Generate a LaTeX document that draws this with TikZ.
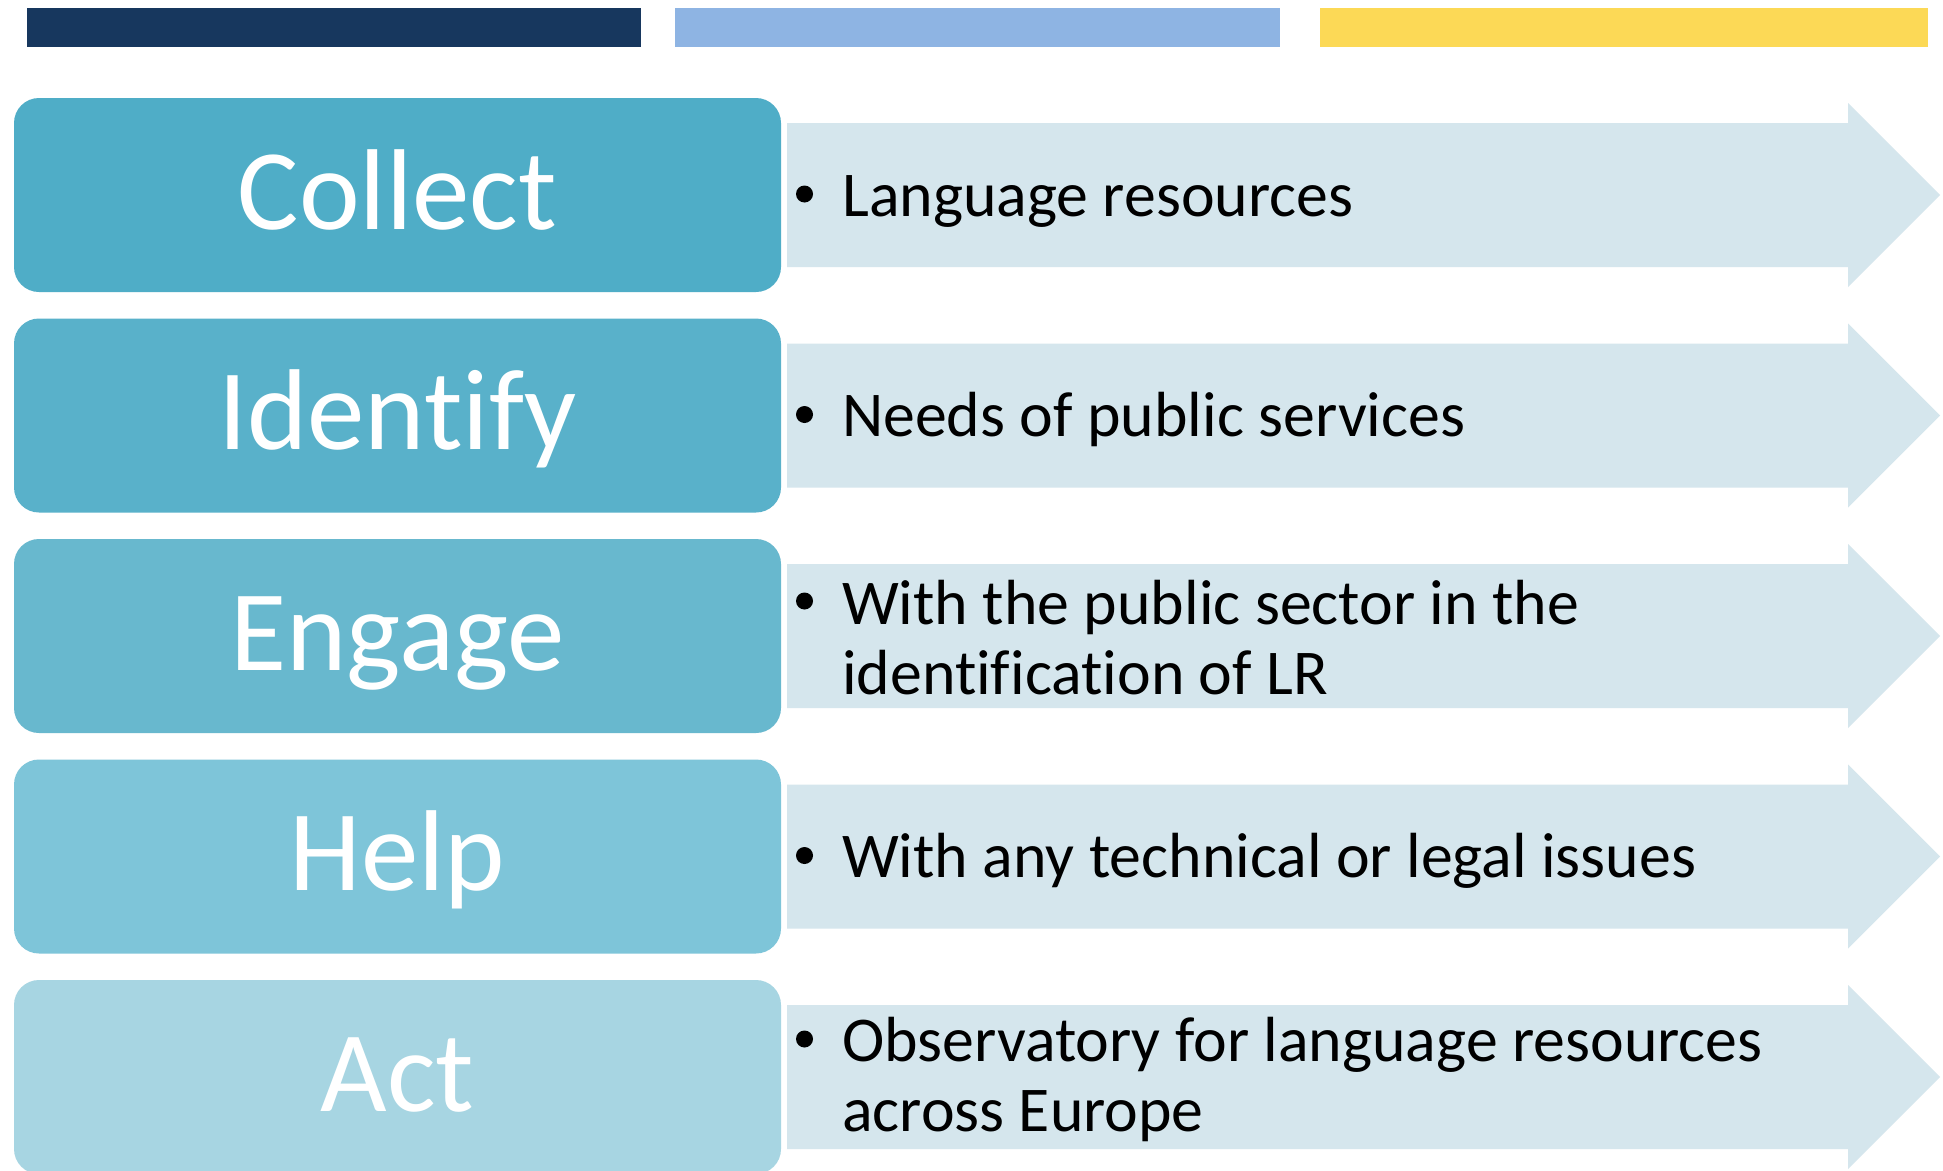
\documentclass[tikz,border=0pt]{standalone}
\usepackage{fontspec}
\setmainfont[Ligatures=NoCommon,RawFeature={-liga}]{Carlito}
\newcommand{\nolig}{\kern0pt}
\definecolor{barA}{HTML}{17375E}
\definecolor{barB}{HTML}{8EB4E3}
\definecolor{barC}{HTML}{FCD956}
\definecolor{boxA}{HTML}{4FADC7}
\definecolor{boxB}{HTML}{59B1CA}
\definecolor{boxC}{HTML}{68B8CE}
\definecolor{boxD}{HTML}{7EC5D9}
\definecolor{boxE}{HTML}{A7D5E2}
\definecolor{arrowfill}{HTML}{D5E6ED}
\tikzset{
  topbar/.style={draw=none, inner sep=0pt, minimum height=39pt, anchor=north west},
  titlebox/.style={draw=none, rounded corners=25pt, minimum width=767pt, minimum height=194pt, inner sep=0pt},
  titletext/.style={text=white, anchor=base, inner sep=0pt, font=\fontsize{115}{115}\selectfont},
  bullettext/.style={text=black, anchor=base west, inner sep=0pt, align=left, font=\fontsize{63.8}{70}\selectfont},
  bulletdot/.style={circle, fill=black, draw=none, minimum size=17pt, inner sep=0pt},
  arrowshape/.style={fill=arrowfill, draw=none}
}
\begin{document}
\begin{tikzpicture}[x=1pt,y=-1pt]
\useasboundingbox[fill=white] (0,0) rectangle (1943,1170);
% top bars
\node[topbar, fill=barA, minimum width=614pt] (barone) at (27,8) {};
\node[topbar, fill=barB, minimum width=605pt] (bartwo) at (675,8) {};
\node[topbar, fill=barC, minimum width=608pt] (barthree) at (1320,8) {};
% arrows
\foreach \c [count=\i] in {195,415.5,636,856.5,1077}{
  \fill[arrowshape] (787,\c-72) -- (1848,\c-72) -- (1848,\c-92) -- (1940,\c)
    -- (1848,\c+92) -- (1848,\c+72) -- (787,\c+72) -- cycle;
}
% boxes
\node[titlebox, fill=boxA] (b1) at (397.5,195) {};
\node[titlebox, fill=boxB] (b2) at (397.5,415.5) {};
\node[titlebox, fill=boxC] (b3) at (397.5,636) {};
\node[titlebox, fill=boxD] (b4) at (397.5,856.5) {};
\node[titlebox, fill=boxE] (b5) at (397.5,1077) {};
\node[titletext] (t1) at ([yshift=-34pt]b1.center) {Collect};
\node[titletext] (t2) at ([yshift=-34pt]b2.center) {Identi\nolig fy};
\node[titletext] (t3) at ([yshift=-34pt]b3.center) {Engage};
\node[titletext] (t4) at ([yshift=-34pt]b4.center) {Help};
\node[titletext] (t5) at ([yshift=-34pt]b5.center) {Act};
% bullet texts
\node[bullettext] (s1) at (842,216) {Language resources};
\node[bulletdot] (d1) at (804.5,194) {};
\node[bullettext] (s2) at (842,436.5) {Needs of public services};
\node[bulletdot] (d2) at (804.5,414.5) {};
\node[bullettext] (s3) at (842,694) {With the public sector in the\\identi\nolig fication of LR};
\node[bulletdot] (d3) at (804.5,601) {};
\node[bullettext] (s4) at (842,877.5) {With any technical or legal issues};
\node[bulletdot] (d4) at (804.5,855.5) {};
\node[bullettext] (s5) at (842,1131) {Observatory for language resources\\across Europe};
\node[bulletdot] (d5) at (804.5,1039) {};
\end{tikzpicture}
\end{document}
